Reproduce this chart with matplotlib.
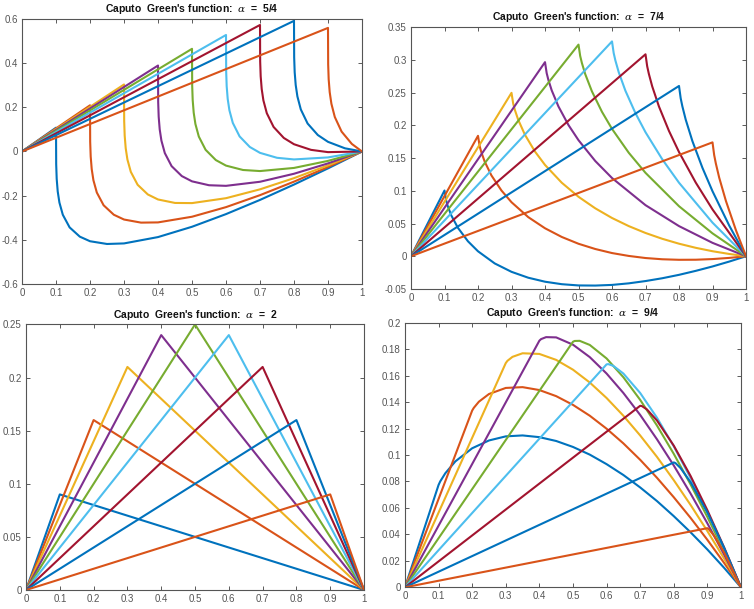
import matplotlib as mpl
import matplotlib.pyplot as plt

mpl.rcParams.update({'font.size': 7, 'font.family': ['Liberation Sans', 'DejaVu Sans'],
                     'mathtext.fontset': 'dejavuserif'})

# source points s of the nine curves, one per line
s_vals = [0.1, 0.2, 0.3, 0.4, 0.5, 0.6, 0.7, 0.8, 0.9]

# MATLAB default colour order
colors = ['#0072BD', '#D95319', '#EDB120', '#7E2F8E', '#77AC30', '#4DBEEE', '#A2142F']

# ---------------- alpha = 5/4 ----------------
t_54 = [
    [0, 0.1, 0.1005, 0.102, 0.105, 0.11, 0.12, 0.14, 0.17, 0.2, 0.25, 0.3, 0.4, 0.5, 0.6, 0.7, 0.8, 0.9, 1.0],
    [0, 0.2, 0.2005, 0.202, 0.205, 0.21, 0.22, 0.24, 0.27, 0.3, 0.35, 0.4, 0.5, 0.6, 0.7, 0.8, 0.9, 1.0],
    [0, 0.3, 0.3005, 0.302, 0.305, 0.31, 0.32, 0.34, 0.37, 0.4, 0.45, 0.5, 0.6, 0.7, 0.8, 0.9, 1.0],
    [0, 0.4, 0.4005, 0.402, 0.405, 0.41, 0.42, 0.44, 0.47, 0.5, 0.55, 0.6, 0.7, 0.8, 0.9, 1.0],
    [0, 0.5, 0.5005, 0.502, 0.505, 0.51, 0.52, 0.54, 0.57, 0.6, 0.65, 0.7, 0.8, 0.9, 1.0],
    [0, 0.6, 0.6005, 0.602, 0.605, 0.61, 0.62, 0.64, 0.67, 0.7, 0.75, 0.8, 0.9, 1.0],
    [0, 0.7, 0.7005, 0.702, 0.705, 0.71, 0.72, 0.74, 0.77, 0.8, 0.85, 0.9, 1.0],
    [0, 0.8, 0.8005, 0.802, 0.805, 0.81, 0.82, 0.84, 0.87, 0.9, 0.95, 1.0],
    [0, 0.9, 0.9005, 0.902, 0.905, 0.91, 0.92, 0.94, 0.97, 1.0],
]
g_54 = [
    [0, 0.1075, -0.0570, -0.1237, -0.1806, -0.2307, -0.2859, -0.3430, -0.3848, -0.4055, -0.4179, -0.4154,
     -0.3867, -0.3401, -0.2829, -0.2188, -0.1494, -0.0763, 0],
    [0, 0.2087, 0.0442, -0.0225, -0.0795, -0.1298, -0.1854, -0.2430, -0.2858, -0.3074, -0.3214, -0.3204,
     -0.2948, -0.2514, -0.1973, -0.1363, -0.0700, 0],
    [0, 0.3027, 0.1382, 0.0714, 0.0144, -0.0361, -0.0920, -0.1503, -0.1941, -0.2168, -0.2325, -0.2332,
     -0.2110, -0.1710, -0.1204, -0.0628, 0],
    [0, 0.3884, 0.2239, 0.1570, 0.0999, 0.0492, -0.0071, -0.0662, -0.1111, -0.1349, -0.1525, -0.1552,
     -0.1368, -0.1006, -0.0538, 0],
    [0, 0.4639, 0.2993, 0.2324, 0.1751, 0.1242, 0.0675, 0.0076, -0.0387, -0.0638, -0.0836, -0.0884,
     -0.0743, -0.0425, 0],
    [0, 0.5264, 0.3619, 0.2949, 0.2374, 0.1863, 0.1291, 0.0681, 0.0204, -0.0062, -0.0285, -0.0359,
     -0.0268, 0],
    [0, 0.5716, 0.4070, 0.3399, 0.2822, 0.2308, 0.1730, 0.1108, 0.0612, 0.0328, 0.0074, -0.0029, 0],
    [0, 0.5902, 0.4256, 0.3584, 0.3005, 0.2487, 0.1901, 0.1264, 0.0744, 0.0436, 0.0143, 0],
    [0, 0.5584, 0.3937, 0.3263, 0.2681, 0.2157, 0.1559, 0.0898, 0.0343, 0],
]

# ---------------- alpha = 7/4 ----------------
t_74 = [
    [0, 0.1, 0.105, 0.11, 0.12, 0.14, 0.17, 0.2, 0.25, 0.3, 0.35, 0.4, 0.45, 0.5, 0.55, 0.6, 0.65, 0.7,
     0.75, 0.8, 0.85, 0.9, 0.95, 1.0],
    [0, 0.2, 0.205, 0.21, 0.22, 0.24, 0.27, 0.3, 0.35, 0.4, 0.45, 0.5, 0.55, 0.6, 0.65, 0.7, 0.75, 0.8,
     0.85, 0.9, 0.95, 1.0],
    [0, 0.3, 0.305, 0.31, 0.32, 0.34, 0.37, 0.4, 0.45, 0.5, 0.55, 0.6, 0.65, 0.7, 0.75, 0.8, 0.85, 0.9,
     0.95, 1.0],
    [0, 0.4, 0.405, 0.41, 0.42, 0.44, 0.47, 0.5, 0.55, 0.6, 0.7, 0.8, 0.9, 1.0],
    [0, 0.5, 0.505, 0.51, 0.52, 0.54, 0.57, 0.6, 0.65, 0.7, 0.8, 0.9, 1.0],
    [0, 0.6, 0.605, 0.61, 0.62, 0.64, 0.67, 0.7, 0.75, 0.8, 0.9, 1.0],
    [0, 0.7, 0.705, 0.71, 0.72, 0.74, 0.77, 0.8, 0.85, 0.9, 1.0],
    [0, 0.8, 0.805, 0.81, 0.82, 0.84, 0.87, 0.9, 0.95, 1.0],
    [0, 0.9, 0.905, 0.91, 0.92, 0.94, 0.97, 1.0],
]
g_74 = [
    [0, 0.1005, 0.0851, 0.0762, 0.0627, 0.0435, 0.0229, 0.0076, -0.0110, -0.0238, -0.0328, -0.0389,
     -0.0427, -0.0446, -0.0448, -0.0438, -0.0414, -0.0379, -0.0336, -0.0284, -0.0223, -0.0156, -0.0081, 0],
    [0, 0.1841, 0.1682, 0.1589, 0.1446, 0.1236, 0.1005, 0.0826, 0.0598, 0.0428, 0.0295, 0.0191, 0.0111,
     0.0049, 0.0005, -0.0027, -0.0046, -0.0054, -0.0053, -0.0043, -0.0025, 0],
    [0, 0.2498, 0.2335, 0.2237, 0.2086, 0.1858, 0.1601, 0.1396, 0.1124, 0.0909, 0.0733, 0.0585, 0.0461,
     0.0356, 0.0267, 0.0192, 0.0129, 0.0077, 0.0035, 0],
    [0, 0.2967, 0.2799, 0.2697, 0.2536, 0.2291, 0.2006, 0.1774, 0.1456, 0.1196, 0.0781, 0.0461,
     0.0205, 0],
    [0, 0.3235, 0.3062, 0.2956, 0.2785, 0.2521, 0.2208, 0.1947, 0.1582, 0.1275, 0.0765, 0.0350, 0],
    [0, 0.3284, 0.3106, 0.2994, 0.2814, 0.2530, 0.2187, 0.1896, 0.1482, 0.1124, 0.0514, 0],
    [0, 0.3087, 0.2904, 0.2788, 0.2597, 0.2291, 0.1916, 0.1593, 0.1126, 0.0716, 0],
    [0, 0.2603, 0.2415, 0.2292, 0.2089, 0.1760, 0.1351, 0.0994, 0.0468, 0],
    [0, 0.1741, 0.1546, 0.1417, 0.1201, 0.0846, 0.0397, 0],
]

# ---------------- alpha = 2 ----------------
peak_2 = [0.09, 0.16, 0.21, 0.24, 0.25, 0.24, 0.21, 0.16, 0.09]

# ---------------- alpha = 9/4 ----------------
t_94 = [
    [0, 0.1, 0.105, 0.12, 0.15, 0.2, 0.25, 0.3, 0.35, 0.4, 0.45, 0.5, 0.55, 0.6, 0.65, 0.7, 0.75, 0.8,
     0.85, 0.9, 0.95, 1.0],
    [0, 0.2, 0.205, 0.22, 0.25, 0.3, 0.35, 0.4, 0.45, 0.5, 0.55, 0.6, 0.65, 0.7, 0.75, 0.8, 0.85, 0.9,
     0.95, 1.0],
    [0, 0.3, 0.305, 0.32, 0.35, 0.4, 0.45, 0.5, 0.55, 0.6, 0.65, 0.7, 0.75, 0.8, 0.85, 0.9, 0.95, 1.0],
    [0, 0.4, 0.405, 0.42, 0.45, 0.5, 0.55, 0.6, 0.65, 0.7, 0.75, 0.8, 0.85, 0.9, 0.95, 1.0],
    [0, 0.5, 0.505, 0.52, 0.55, 0.6, 0.65, 0.7, 0.75, 0.8, 0.85, 0.9, 0.95, 1.0],
    [0, 0.6, 0.605, 0.62, 0.65, 0.7, 0.75, 0.8, 0.85, 0.9, 0.95, 1.0],
    [0, 0.7, 0.705, 0.72, 0.75, 0.8, 0.85, 0.9, 0.95, 1.0],
    [0, 0.8, 0.805, 0.82, 0.85, 0.9, 0.95, 1.0],
    [0, 0.9, 0.905, 0.92, 0.95, 1.0],
]
g_94 = [
    [0, 0.0774, 0.0801, 0.0862, 0.0952, 0.1051, 0.1110, 0.1141, 0.1148, 0.1135, 0.1106, 0.1061, 0.1003,
     0.0931, 0.0849, 0.0755, 0.0652, 0.0538, 0.0416, 0.0286, 0.0147, 0],
    [0, 0.1336, 0.1357, 0.1403, 0.1461, 0.1507, 0.1513, 0.1491, 0.1445, 0.1379, 0.1297, 0.1199, 0.1088,
     0.0964, 0.0828, 0.0681, 0.0525, 0.0359, 0.0184, 0],
    [0, 0.1695, 0.1712, 0.1742, 0.1769, 0.1764, 0.1719, 0.1645, 0.1548, 0.1431, 0.1297, 0.1148, 0.0986,
     0.0810, 0.0623, 0.0425, 0.0217, 0],
    [0, 0.1864, 0.1876, 0.1891, 0.1889, 0.1834, 0.1740, 0.1616, 0.1469, 0.1303, 0.1119, 0.0921, 0.0709,
     0.0484, 0.0247, 0],
    [0, 0.1856, 0.1862, 0.1863, 0.1832, 0.1730, 0.1588, 0.1417, 0.1223, 0.1009, 0.0778, 0.0532, 0.0273, 0],
    [0, 0.1685, 0.1687, 0.1674, 0.1616, 0.1469, 0.1282, 0.1066, 0.0826, 0.0567, 0.0291, 0],
    [0, 0.1372, 0.1370, 0.1345, 0.1261, 0.1071, 0.0842, 0.0583, 0.0301, 0],
    [0, 0.0944, 0.0939, 0.0902, 0.0795, 0.0566, 0.0298, 0],
    [0, 0.0447, 0.0437, 0.0390, 0.0263, 0],
]

t_2 = [[0, s, 1] for s in s_vals]
g_2 = [[0, p, 0] for p in peak_2]

panels = [
    ('5/4', t_54, g_54, (-0.6, 0.6), 0.2, [0.0292, 0.5332, 0.4509, 0.4361]),
    ('7/4', t_74, g_74, (-0.05, 0.35), 0.05, [0.5451, 0.5255, 0.4443, 0.4297]),
    ('2', t_2, g_2, (0, 0.25), 0.05, [0.0345, 0.0312, 0.4483, 0.4360]),
    ('9/4', t_94, g_94, (0, 0.2), 0.02, [0.5371, 0.0356, 0.4456, 0.4345]),
]

fig = plt.figure(figsize=(7.54, 6.09), dpi=100)
axc = '#404040'

for label, ts, gs, ylim, ystep, pos in panels:
    ax = fig.add_axes(pos)
    for i, (t, g) in enumerate(zip(ts, gs)):
        ax.plot(t, g, color=colors[i % 7], lw=1.5)
    ax.set_xlim(0, 1)
    ax.set_ylim(*ylim)
    nt = int(round((ylim[1] - ylim[0]) / ystep))
    yt = [round(ylim[0] + k * ystep, 4) for k in range(nt + 1)]
    ax.set_yticks(yt)
    ax.set_yticklabels([('%g' % v) for v in yt])
    xt = [k / 10 for k in range(11)]
    ax.set_xticks(xt)
    ax.set_xticklabels([('%g' % v) for v in xt])
    ax.tick_params(direction='in', length=3, width=0.6, colors=axc, labelcolor='#555555',
                   top=True, right=True, labelsize=7, pad=3)
    for sp in ax.spines.values():
        sp.set_color('#555555')
        sp.set_linewidth(0.8)
    ax.set_title("Caputo  Green's function:  $\\alpha$  =  " + label, fontsize=7.5,
                 fontweight='bold', pad=5, color='#111111')

fig.savefig('out.png', dpi=100)
